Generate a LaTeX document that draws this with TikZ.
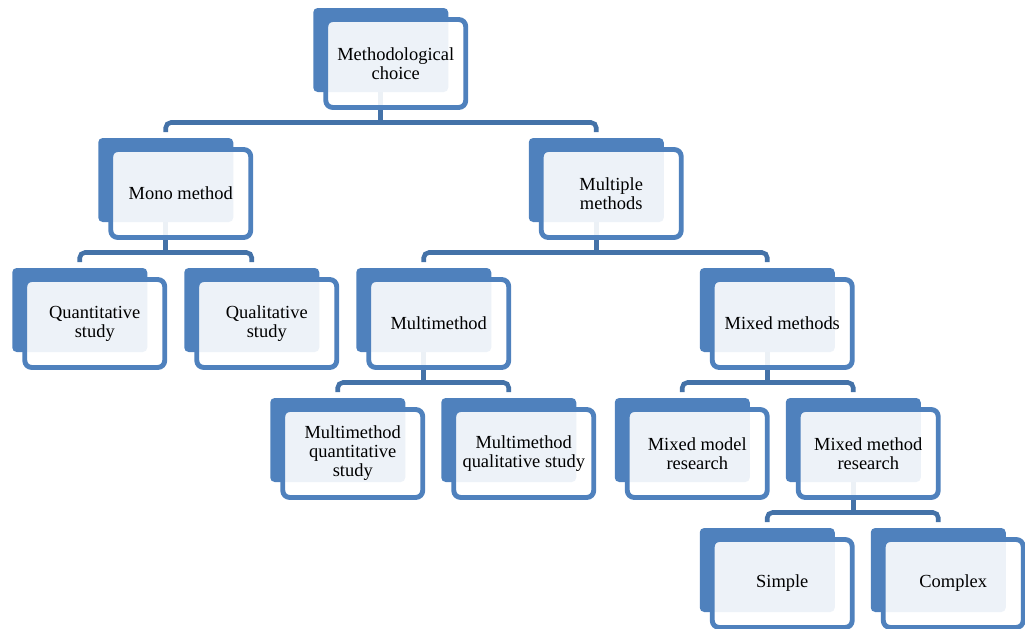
\documentclass[tikz,border=0pt]{standalone}
\usepackage{fontspec}
\setmainfont{Liberation Serif}
\usetikzlibrary{backgrounds}
\definecolor{cardblue}{RGB}{79,129,189}
\definecolor{linkblue}{RGB}{68,114,168}
\begin{document}
\begin{tikzpicture}[x=0.02cm,y=-0.02cm,line cap=round,line join=round,
  card/.style={draw=cardblue,line width=2.8pt,rounded corners=4pt,fill=white,fill opacity=0.9,
    text opacity=1,minimum width=2.8cm,minimum height=1.76cm,align=center,inner sep=2pt,
    outer sep=0pt,font=\fontsize{10.5}{10.8}\selectfont},
  link/.style={draw=linkblue,line width=2.6pt}]
  \useasboundingbox (0,0) rectangle (1025,629);
  % front cards
  \node[card] (choice) at (395.75,63.5) {Methodological\\choice};
  \node[card] (mono) at (180.75,193.5) {Mono method};
  \node[card] (multi) at (611.25,193.5) {Multiple\\methods};
  \node[card] (quant) at (94.75,323.5) {Quantitative\\study};
  \node[card] (qual) at (266.75,323.5) {Qualitative\\study};
  \node[card] (multimethod) at (438.75,323.5) {Multimethod};
  \node[card] (mixed) at (782.25,323.5) {Mixed methods};
  \node[card] (mmquant) at (352.75,453.5) {Multimethod\\quantitative\\study};
  \node[card] (mmqual) at (523.75,453.5) {Multimethod\\qualitative study};
  \node[card] (mixmodel) at (697.25,453.5) {Mixed model\\research};
  \node[card] (mixmethod) at (868.25,453.5) {Mixed method\\research};
  \node[card] (simple) at (782.25,583.5) {Simple};
  \node[card] (complex) at (953.25,583.5) {Complex};
  \begin{scope}[on background layer]
    % back cards
    \foreach \n in {choice,mono,multi,quant,qual,multimethod,mixed,mmquant,mmqual,mixmodel,mixmethod,simple,complex}
      \fill[cardblue,rounded corners=2.5pt] ([shift={(-82.5,-55.5)}]\n.center) rectangle ([shift={(52.5,28.5)}]\n.center);
    % connectors
    \foreach \p/\a/\b in {choice/mono/multi,mono/quant/qual,multi/multimethod/mixed,
        multimethod/mmquant/mmqual,mixed/mixmodel/mixmethod,mixmethod/simple/complex} {
      \draw[link] ([shift={(-15,28.5)}]\p.center) -- ([shift={(-15,59)}]\p.center);
      \draw[link,rounded corners=3pt] ([shift={(-15,-61.5)}]\a.center) |- ([shift={(0,59)}]\p.center)
        -| ([shift={(-15,-61.5)}]\b.center);
    }
  \end{scope}
\end{tikzpicture}
\end{document}
